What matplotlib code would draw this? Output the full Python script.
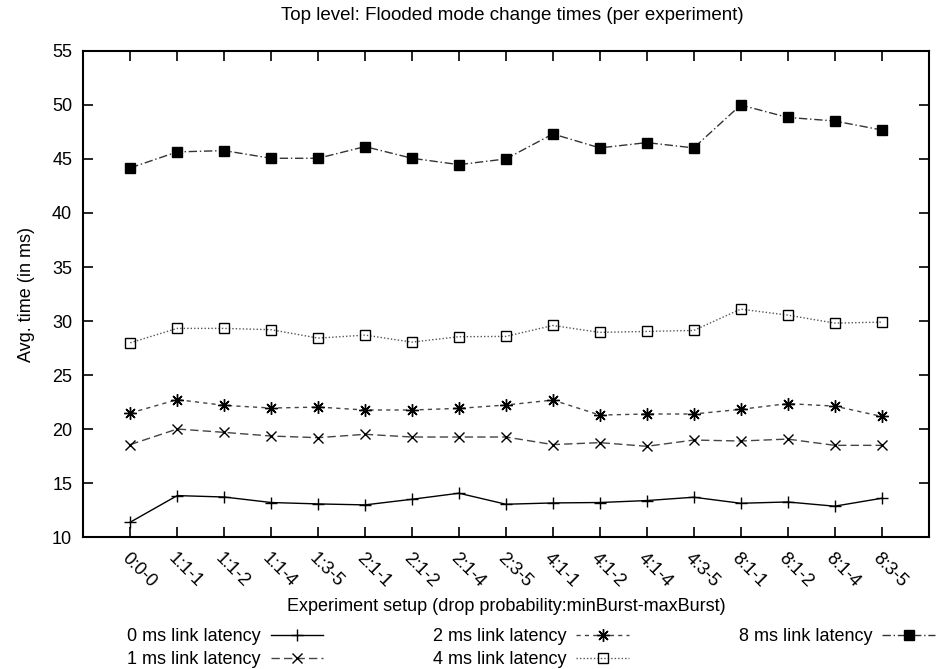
import numpy as np
import matplotlib.pyplot as plt

plt.rcParams['font.family'] = ['Liberation Sans', 'DejaVu Sans']

# Configuraciones del experimento (probabilidad:minBurst-maxBurst)
setups = ["0:0-0", "1:1-1", "1:1-2", "1:1-4", "1:3-5", "2:1-1", "2:1-2", "2:1-4", "2:3-5",
          "4:1-1", "4:1-2", "4:1-4", "4:3-5", "8:1-1", "8:1-2", "8:1-4", "8:3-5"]

# Tiempos medios (ms) por latencia del enlace
lat0 = [11.39, 13.85, 13.72, 13.21, 13.08, 12.99, 13.51, 14.07, 13.05,
        13.17, 13.21, 13.39, 13.70, 13.14, 13.26, 12.87, 13.60]
lat1 = [18.57, 20.01, 19.70, 19.36, 19.21, 19.52, 19.27, 19.27, 19.27,
        18.57, 18.75, 18.41, 18.99, 18.90, 19.08, 18.50, 18.50]
lat2 = [21.49, 22.73, 22.20, 21.95, 22.04, 21.77, 21.77, 21.92, 22.23,
        22.69, 21.30, 21.40, 21.40, 21.83, 22.36, 22.13, 21.18]
lat4 = [27.99, 29.32, 29.32, 29.20, 28.42, 28.70, 28.05, 28.55, 28.58,
        29.59, 28.95, 29.04, 29.13, 31.10, 30.55, 29.81, 29.90]
lat8 = [44.17, 45.65, 45.77, 45.06, 45.06, 46.14, 45.06, 44.47, 45.00,
        47.31, 46.02, 46.51, 46.02, 49.99, 48.84, 48.51, 47.68]

x = np.arange(len(setups))
fs = 13

fig = plt.figure(figsize=(9.36, 6.69), dpi=100)
ax = fig.add_axes([0.089, 0.197, 0.903, 0.727])

ax.plot(x, lat0, color='black', lw=1.0, ls='-', marker='+', ms=9, mew=1.0,
        label='0 ms link latency')
ax.plot(x, lat1, color='#444444', lw=1.0, ls=(0, (6, 3)), marker='x', ms=7, mew=1.0,
        mec='black', label='1 ms link latency')
ax.plot(x, lat2, color='#444444', lw=1.0, ls=(0, (3, 3)), marker=(8, 2, 0), ms=9, mew=1.0,
        mec='black', label='2 ms link latency')
ax.plot(x, lat4, color='#555555', lw=1.0, ls=(0, (1, 1.5)), marker='s', ms=7, mew=1.0,
        mfc='none', mec='black', label='4 ms link latency')
ax.plot(x, lat8, color='#333333', lw=1.0, ls=(0, (6, 2, 1, 2)), marker='s', ms=7,
        mfc='black', mec='black', label='8 ms link latency')

ax.set_xlim(-1, 17)
ax.set_ylim(10, 55)
ax.set_yticks(np.arange(10, 56, 5))
ax.set_xticks(x)
ax.set_xticklabels(setups, rotation=-45, ha='left', va='top', rotation_mode='anchor')
ax.tick_params(direction='in', length=7, width=1.2, top=True, right=True, labelsize=fs)
ax.tick_params(axis='y', pad=8)
ax.tick_params(axis='x', pad=9)
for s in ax.spines.values():
    s.set_linewidth(1.5)

ax.set_xlabel("Experiment setup (drop probability:minBurst-maxBurst)", fontsize=fs, labelpad=5)
ax.set_ylabel("Avg. time (in ms)", fontsize=fs, labelpad=12)
fig.text(512 / 936, 1 - 16 / 669, "Top level: Flooded mode change times (per experiment)",
         fontsize=13.5, ha='center', va='center')

handles, labels = ax.get_legend_handles_labels()
fig.legend(handles, labels, ncol=3, loc='upper left', bbox_to_anchor=(127 / 936, 1 - 628 / 669),
           frameon=False, markerfirst=False, numpoints=1, fontsize=fs, handlelength=2.9,
           handletextpad=0.55, columnspacing=6.1, labelspacing=0.33, borderpad=0,
           borderaxespad=0)

fig.savefig("out.png", dpi=100)
